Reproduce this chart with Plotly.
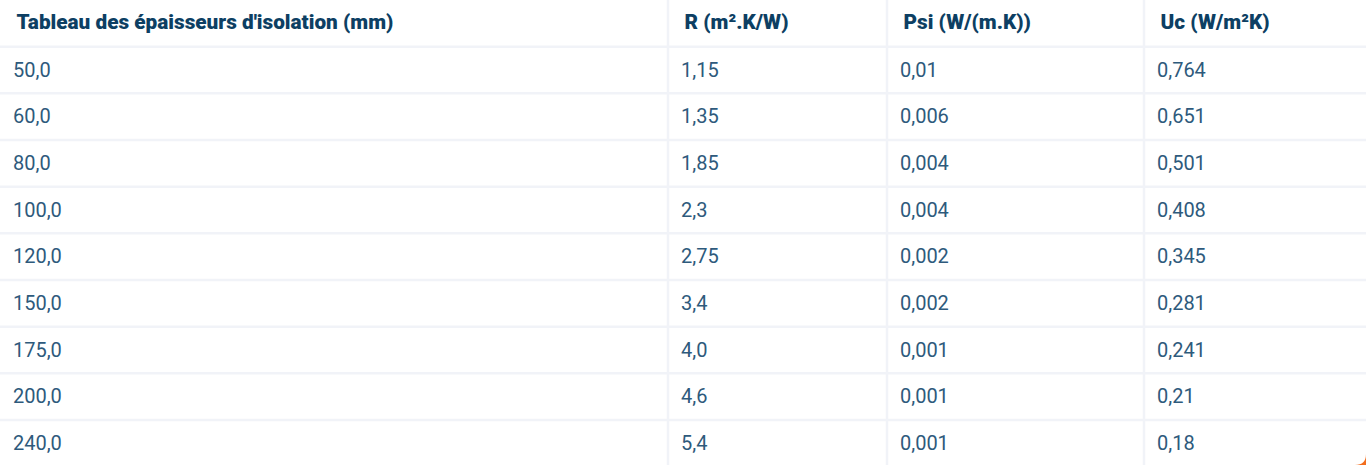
import plotly.graph_objects as go

headers = ["Tableau des épaisseurs d'isolation (mm)", "R (m².K/W)", "Psi (W/(m.K))", "Uc (W/m²K)"]
epaisseur = ["50,0", "60,0", "80,0", "100,0", "120,0", "150,0", "175,0", "200,0", "240,0"]
r_values = ["1,15", "1,35", "1,85", "2,3", "2,75", "3,4", "4,0", "4,6", "5,4"]
psi_values = ["0,01", "0,006", "0,004", "0,004", "0,002", "0,002", "0,001", "0,001", "0,001"]
uc_values = ["0,764", "0,651", "0,501", "0,408", "0,345", "0,281", "0,241", "0,21", "0,18"]

W, H = 1366, 465
col_widths = [668, 219, 257, 222]
row_h = 46.67
head_shift = 1.5  # px, to visually center the top-aligned header text
body_shift = 6    # px, to visually center the top-aligned cell text
empty_head = 15   # px used by plotly for an empty header block
line_col = "#f1f3f8"
line_w = 2.5

fig = go.Figure()
# header row
fig.add_trace(go.Table(
    columnwidth=col_widths,
    header=dict(
        values=["<b>%s</b>" % h for h in headers],
        prefix="\u2009",
        align="left",
        fill_color="white",
        line=dict(color="white", width=0),
        font=dict(family="Roboto Black, Roboto", size=20.75, color="#0d3f63", weight=900),
        height=row_h,
    ),
    cells=dict(values=[], line=dict(color="white", width=0), fill_color="white"),
    domain=dict(x=[0, 1], y=[1 - (row_h + head_shift) / H, 1 - head_shift / H]),
))
# body rows
fig.add_trace(go.Table(
    columnwidth=col_widths,
    header=dict(values=[], line=dict(color="white", width=0), fill_color="white", height=1),
    cells=dict(
        values=[epaisseur, r_values, psi_values, uc_values],
        prefix="\u00a0",
        align="left",
        fill_color="white",
        line=dict(color="white", width=0),
        font=dict(family="Roboto", size=20, color="#2e5a7c"),
        height=row_h,
    ),
    domain=dict(x=[0, 1], y=[0, 1 - (row_h + body_shift - empty_head) / H]),
))

# grid lines (row separators and column separators)
shapes = []
n_rows = len(epaisseur) + 1
for k in range(1, n_rows):
    yy = 1 - (k * row_h) / H
    shapes.append(dict(type="line", xref="paper", yref="paper", x0=0, x1=1, y0=yy, y1=yy,
                       line=dict(color=line_col, width=line_w), layer="above"))
acc = 0
for w in col_widths[:-1]:
    acc += w
    xx = acc / sum(col_widths)
    shapes.append(dict(type="line", xref="paper", yref="paper", x0=xx, x1=xx, y0=0, y1=1,
                       line=dict(color=line_col, width=line_w), layer="above"))

# small orange rounded-corner accent at bottom-right
r = 11
shapes.append(dict(
    type="path", xref="paper", yref="paper",
    path="M %f %f Q %f %f %f %f L %f %f Z" % (
        (W - r) / W, 0, 1, 0, 1, r / H, 1, 0),
    fillcolor="#f26d1d", line=dict(width=0), layer="above"))

fig.update_layout(
    width=W, height=H,
    margin=dict(l=0, r=0, t=0, b=0),
    paper_bgcolor="white",
    shapes=shapes,
)
fig.write_html("out.html", config={"displayModeBar": False},
               post_script="document.body.style.margin='0';")
